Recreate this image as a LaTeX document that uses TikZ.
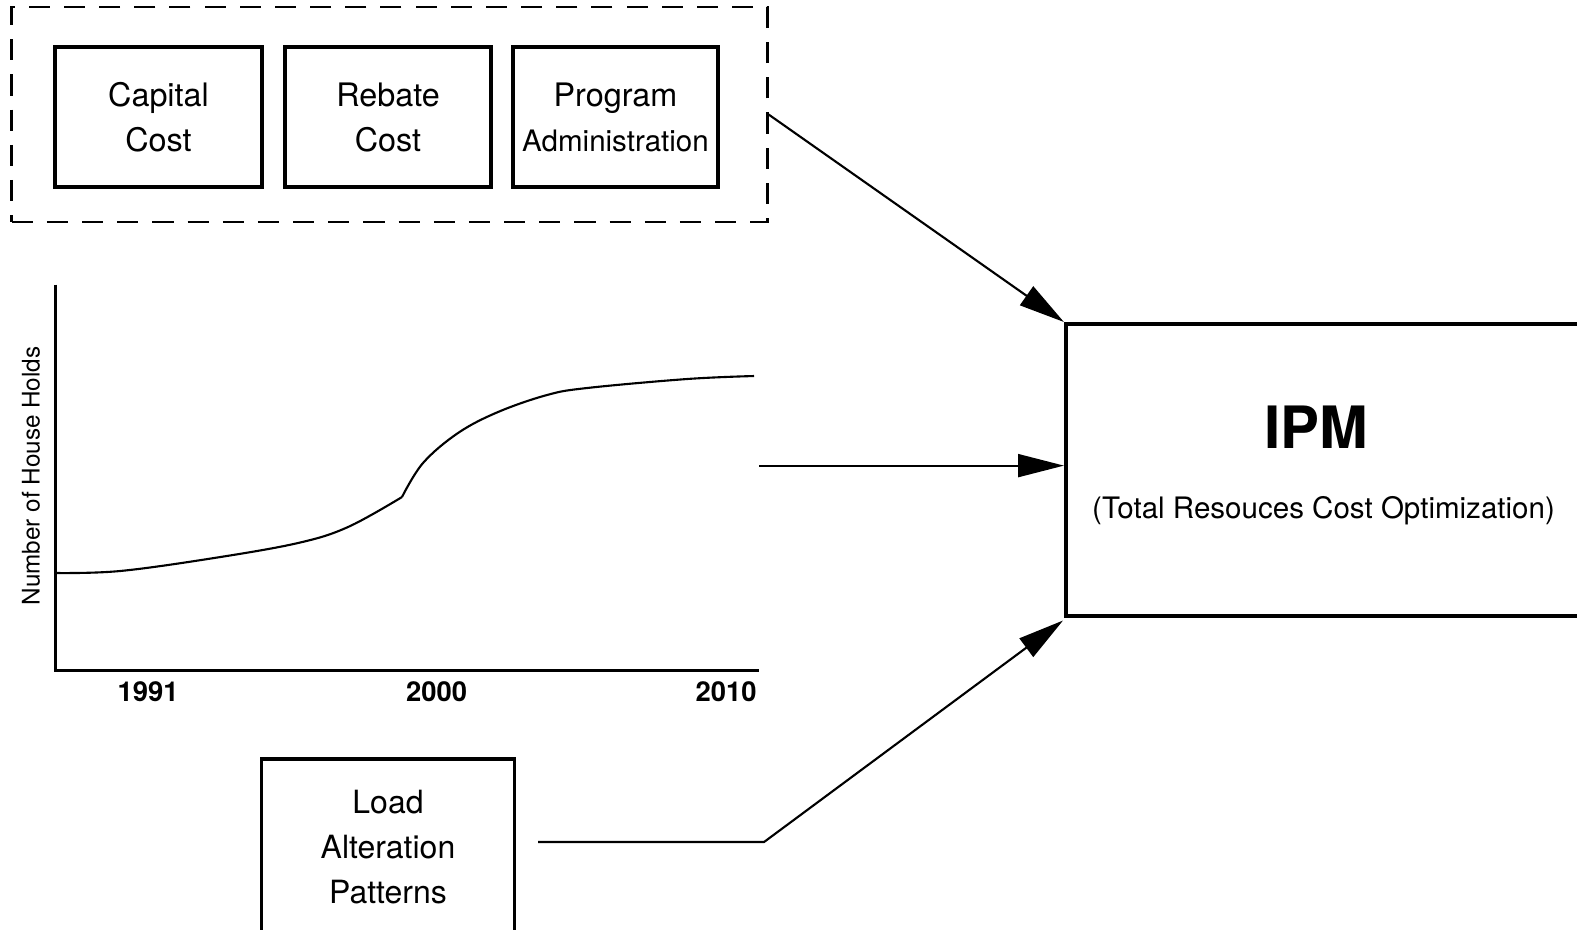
\documentclass[tikz,border=0pt]{standalone}
\usepackage{fontspec}
\setmainfont{TeX Gyre Heros}
\usetikzlibrary{arrows.meta}
\tikzset{
  costbox/.style={draw,line width=0.9pt,minimum width=2.07cm,minimum height=1.4cm,inner sep=0pt,align=center,font=\fontsize{9.2}{12.8}\selectfont},
  feed/.style={line width=0.6pt,-{Triangle[length=13pt,width=6.5pt]}},
  year/.style={font=\fontsize{7.8}{9}\bfseries\selectfont},
}
\begin{document}
\begin{tikzpicture}[x=0.01cm,y=-0.01cm]
\clip (0,0) rectangle (1577,929);
\fill[white] (0,0) rectangle (1577,929);
\node[draw,dash pattern=on 6pt off 4pt,line width=0.8pt,minimum width=7.55cm,minimum height=2.15cm] (group) at (389.5,114.5) {};
\node[costbox] (capital) at (158.5,117) {Capital\\Cost};
\node[costbox,minimum width=2.06cm] (rebate) at (388,117) {Rebate\\Cost};
\node[costbox,minimum width=2.05cm] (program) at (615.5,117) {Program\\{\fontsize{8.4}{12.5}\selectfont Administration}};
\draw[line width=0.85pt] (55.3,284.6) -- (55.3,670) -- (759,670);
\draw[line width=0.6pt] plot[smooth,tension=0.6] coordinates {(57,573) (120,571) (214,558) (298,543) (348,527) (402,497)};
\draw[line width=0.6pt] plot[smooth,tension=0.6] coordinates {(402,497) (423,463) (458,433) (498,412) (547,395) (587,388) (687,379) (754,376)};
\node[rotate=90,font=\fontsize{6.9}{8}\selectfont] (ylabel) at (31,476) {Number of House Holds};
\node[year] (y1991) at (148,692) {1991};
\node[year] (y2000) at (436.5,692) {2000};
\node[year] (y2010) at (726,692) {2010};
\node[draw,line width=1.1pt,minimum width=5.34cm,minimum height=2.92cm] (ipm) at (1333,470) {};
\node[font=\fontsize{16.6}{20}\bfseries\selectfont] (ipmtitle) at (1316,427) {IPM};
\node[font=\fontsize{8.4}{10}\selectfont] (ipmsub) at (1323.5,511) {(Total Resouces Cost Optimization)};
\node[costbox,minimum width=2.53cm,minimum height=1.76cm,font=\fontsize{9.1}{12.8}\selectfont] (load) at (388,847) {Load\\Alteration\\Patterns};
\coordinate (chartout) at (759,465.6);
\coordinate (loadout) at (538,842);
\coordinate (bend) at (764,842);
\coordinate (ipmlow) at (1063,620.5);
\draw[feed] (group.east) -- (ipm.north west);
\draw[feed] (chartout) -- (chartout -| ipm.west);
\draw[feed] (loadout) -- (bend) -- (ipmlow);
\end{tikzpicture}
\end{document}
